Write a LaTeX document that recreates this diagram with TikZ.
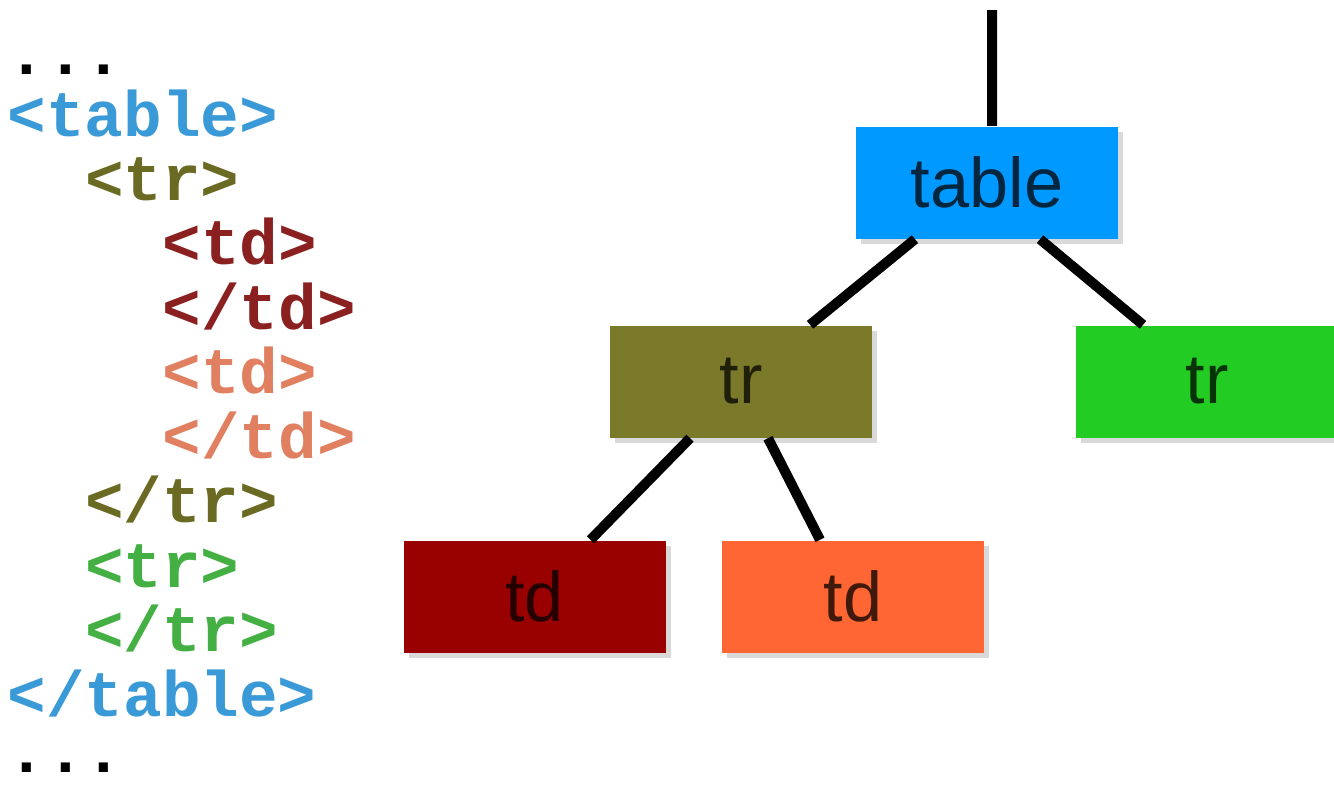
\documentclass[tikz,border=0pt]{standalone}
\usepackage{fontspec}
\setmainfont{Liberation Sans}
\setmonofont{Liberation Mono}
\usetikzlibrary{shadows}
\definecolor{tablebox}{HTML}{0099FF}
\definecolor{tablecode}{HTML}{3A9AD8}
\definecolor{trbox}{HTML}{7A7A2A}
\definecolor{trcode}{HTML}{6A6A22}
\definecolor{tdbox}{HTML}{990000}
\definecolor{tdcode}{HTML}{8A2020}
\definecolor{tdtwobox}{HTML}{FF6633}
\definecolor{tdtwocode}{HTML}{E08060}
\definecolor{trtwobox}{HTML}{22CC22}
\definecolor{trtwocode}{HTML}{44B044}
\tikzset{
  elem/.style={rectangle, fill=#1, text=#1!25!black, minimum width=2.62cm, minimum height=1.12cm,
    inner sep=0pt, font=\fontsize{20}{20}\selectfont,
    drop shadow={opacity=0.3, shadow xshift=0.05cm, shadow yshift=-0.05cm}},
  code/.style={anchor=base west, inner sep=0pt, text=#1, font=\ttfamily\bfseries\fontsize{18.3}{18.3}\selectfont},
  link/.style={line width=0.1cm}
}
\begin{document}
\begin{tikzpicture}
    \useasboundingbox (0,0) rectangle (13.34,-7.84);
    \node [code=black] (c0) at (0.07,-0.74) {...};
    \node [code=tablecode] (c1) at (0.07,-1.36) {<table>};
    \node [code=trcode] (c2) at (0.845,-2.0) {<tr>};
    \node [code=tdcode] (c3) at (1.62,-2.645) {<td>};
    \node [code=tdcode] (c4) at (1.62,-3.29) {</td>};
    \node [code=tdtwocode] (c5) at (1.62,-3.935) {<td>};
    \node [code=tdtwocode] (c6) at (1.62,-4.58) {</td>};
    \node [code=trcode] (c7) at (0.845,-5.225) {</tr>};
    \node [code=trtwocode] (c8) at (0.845,-5.87) {<tr>};
    \node [code=trtwocode] (c9) at (0.845,-6.515) {</tr>};
    \node [code=tablecode] (c10) at (0.07,-7.16) {</table>};
    \node [code=black] (c11) at (0.07,-7.72) {...};

    \node [elem=tablebox] (table) at (9.87,-1.825) {table};
    \node [elem=trbox] (tr1) at (7.41,-3.815) {tr};
    \node [elem=trtwobox] (tr2) at (12.07,-3.815) {tr};
    \node [elem=tdbox] (td1) at (5.345,-5.965) {td};
    \node [elem=tdtwobox] (td2) at (8.53,-5.965) {td};
    \coordinate (root) at (9.92,-0.1);

    \draw [link] (root) -- ([xshift=0.05cm]table.north);
    \draw [link] ([xshift=-0.72cm]table.south) -- ([xshift=0.69cm]tr1.north);
    \draw [link] ([xshift=0.53cm]table.south) -- ([xshift=-0.64cm]tr2.north);
    \draw [link] ([xshift=-0.51cm]tr1.south) -- ([xshift=0.56cm]td1.north);
    \draw [link] ([xshift=0.27cm]tr1.south) -- ([xshift=-0.33cm]td2.north);
\end{tikzpicture}
\end{document}
